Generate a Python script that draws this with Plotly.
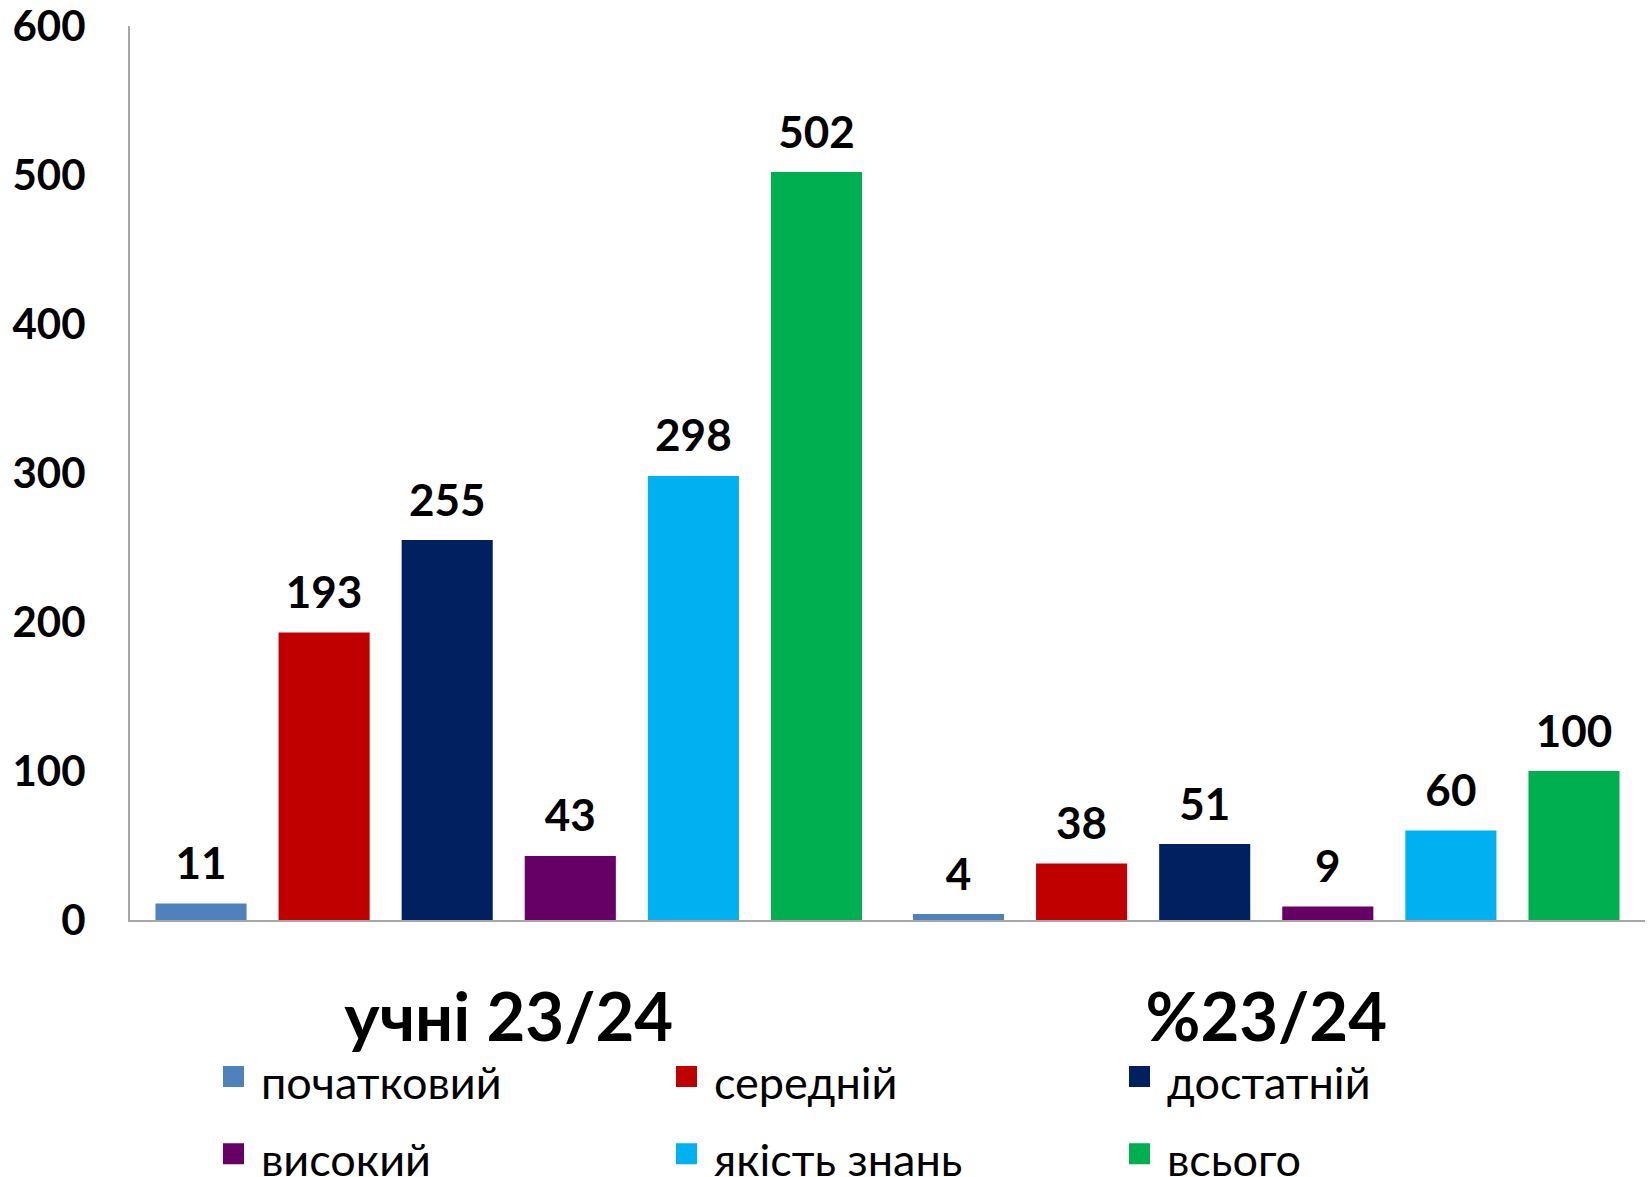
import plotly.graph_objects as go

categories = ["учні 23/24", "%23/24"]
series_names = ["початковий", "середній", "достатній", "високий", "якість знань", "всього"]
series_colors = ["#4F81BD", "#C00000", "#002060", "#660066", "#00B0F0", "#00B050"]
values_pupils = [11, 193, 255, 43, 298, 502]
values_percent = [4, 38, 51, 9, 60, 100]
y_ticks = [0, 100, 200, 300, 400, 500, 600]

FONT = "Lato, 'Open Sans', sans-serif"

fig = go.Figure()
for i, name in enumerate(series_names):
    vals = [values_pupils[i], values_percent[i]]
    fig.add_trace(go.Bar(
        x=categories,
        y=vals,
        name=name,
        legendgroup=name,
        offsetgroup=str(i),
        showlegend=False,
        marker=dict(color=series_colors[i], line=dict(width=0)),
        hovertemplate="%{x}<br>" + name + ": %{y}<extra></extra>",
    ))
# value labels above bars (invisible markers give the label gap)
for i, name in enumerate(series_names):
    vals = [values_pupils[i], values_percent[i]]
    fig.add_trace(go.Scatter(
        x=categories,
        y=vals,
        mode="markers+text",
        name=name,
        legendgroup=name,
        offsetgroup=str(i),
        showlegend=False,
        marker=dict(size=20, opacity=0, color=series_colors[i]),
        text=[str(v) for v in vals],
        textposition="top center",
        textfont=dict(family=FONT, size=44, color="#000000", weight="bold"),
        cliponaxis=False,
        hoverinfo="skip",
    ))
# legend entries with larger square swatches
for i, name in enumerate(series_names):
    fig.add_trace(go.Scatter(
        x=[None], y=[None],
        mode="markers",
        name="<span style='font-size:45px'>" + name + "</span>",
        legendgroup=name,
        offsetgroup=str(i),
        showlegend=True,
        marker=dict(symbol="square", size=16, color=series_colors[i],
                    line=dict(width=10, color=series_colors[i])),
        hoverinfo="skip",
    ))

fig.update_layout(
    width=1648,
    height=1177,
    barmode="group",
    scattermode="group",
    bargap=0.025,
    bargroupgap=0.26,
    plot_bgcolor="white",
    paper_bgcolor="white",
    margin=dict(l=130, r=3, t=26, b=257, autoexpand=False),
    font=dict(family=FONT, color="#000000"),
    showlegend=True,
    legend=dict(
        orientation="h",
        xref="container",
        yref="container",
        x=206 / 1648,
        xanchor="left",
        y=1 - 1033 / 1177,
        yanchor="top",
        entrywidth=393,
        entrywidthmode="pixels",
        bgcolor="rgba(0,0,0,0)",
        font=dict(family=FONT, size=57, color="#000000"),
        itemwidth=45,
        traceorder="normal",
    ),
)

fig.update_yaxes(
    range=[0, 600],
    tickvals=y_ticks,
    ticktext=[str(t) for t in y_ticks],
    showgrid=False,
    zeroline=False,
    showline=True,
    linecolor="#A6A6A6",
    linewidth=2,
    ticks="",
    ticklabelstandoff=34,
    ticklabeloverflow="allow",
    tickfont=dict(family=FONT, size=42, color="#000000", weight="bold"),
)
fig.update_xaxes(
    showgrid=False,
    showline=True,
    linecolor="#A6A6A6",
    linewidth=2,
    ticks="",
    ticklabelstandoff=39,
    tickfont=dict(family=FONT, size=67, color="#000000", weight="bold"),
)

fig.write_html(
    "out.html",
    config={"displayModeBar": False},
    post_script="document.body.style.margin='0';",
)
